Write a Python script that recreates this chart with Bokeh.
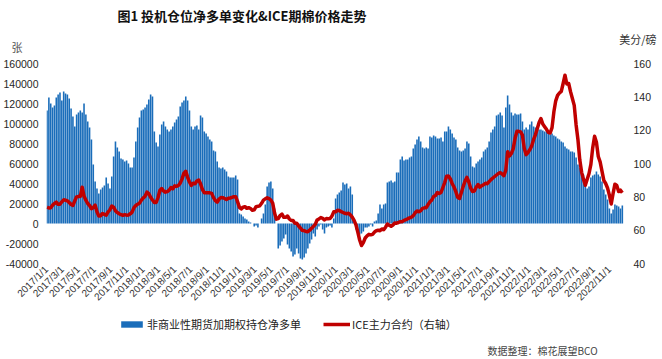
import pandas as pd
from math import pi
from bokeh.plotting import figure
from bokeh.layouts import column
from bokeh.models import (Range1d, LinearAxis, FixedTicker, NumeralTickFormatter,
                          Label, Title, Legend, LegendItem, ColumnDataSource)
from bokeh.embed import file_html
from bokeh.resources import INLINE

# ---------------- data ----------------
first_report = "2017-01-03"   # weekly CFTC report dates start here, one value per week

net_long = [  # thousand contracts, non-commercial futures+options net long
    113, 126, 120, 116, 118, 126, 129, 131, 123, 132,
    130, 129, 125, 115, 107, 97, 109, 111, 113, 111,
    120, 109, 102, 96, 84, 59, 42, 35, 30, 34,
    36, 38, 46, 40, 35, 47, 67, 82, 76, 72,
    65, 64, 62, 63, 60, 56, 56, 66, 82, 96,
    106, 113, 114, 116, 119, 124, 129, 127, 92, 81,
    77, 89, 99, 102, 97, 94, 92, 94, 97, 101,
    104, 107, 117, 121, 123, 127, 123, 113,
    97, 94, 97, 98, 94, 108, 106, 92, 90, 87,
    84, 82, 73, 72, 62, 56, 55, 56, 54, 52,
    47, 46, 46, 46, 48, 44, 10, 9, 7, 5,
    4, 2, 1, 0, -3, -2, -4, 0, 5, 10,
    19, 37, 41, 42, 35, 15, 0, -25, -22, -18,
    -15, -11, -21, -25, -28, -33, -31, -25, -30, -35,
    -36, -34, -30, -25, -20, -16, -10, -13, -6, -3,
    -1, -6, -10, -4, -3, -2, -4, 5,
    25, 29, 31, 33, 41, 39, 40, 35, 37, 29,
    2, -6, -8, -11, -10, -8, -4, -4, -3, -1,
    -3, 2, 3, 10, 19, 15, 19, 20, 41, 42,
    43, 41, 42, 51, 51, 64, 67, 63, 64, 64,
    66, 67, 75, 79, 84, 87, 82, 76, 75, 76,
    75, 87, 86, 88, 87, 85, 85, 86, 82, 92,
    92, 97, 94, 90, 86, 84, 76, 73, 72, 73,
    75, 82, 80, 67, 57, 56, 60, 62,
    64, 66, 72, 74, 76, 82, 91, 94, 97, 108,
    109, 111, 108, 96, 116, 128, 119, 111, 108, 110,
    109, 109, 110, 102, 94, 96, 94, 99, 102, 97,
    96, 92, 94, 94, 93, 92, 92, 91, 89, 90,
    88, 87, 85, 84, 82, 81, 77, 75, 74, 72,
    72, 71, 66, 59, 56, 51, 49, 42, 35, 37,
    46, 48, 49, 52, 49, 47, 42, 34, 29, 24,
    15, 10, 14, 19, 18, 17, 15, 18,
]
net_long = [v * 1000 for v in net_long]

ice_price = [  # US cents / lb, ICE front contract, weekly
    73.8, 73.3, 73.5, 75, 76, 76.8, 75.5, 75.5, 77, 78.2,
    78, 77.6, 76.6, 75.4, 74.8, 77.6, 80, 80.3, 80.2, 85.8,
    80.5, 78, 76, 74.8, 72.9, 73.6, 75, 71, 68.5, 68.7,
    70, 69.5, 69, 71, 72.2, 74.5, 73.8, 71.6, 70.6, 69.9,
    69.3, 68.9, 69.3, 69, 69.1, 69.8, 70.8, 73.5, 74.8, 75.6,
    76.2, 78, 79.3, 80.4, 82.8, 81.9, 79.7, 78.1, 76.6, 76.6,
    79.6, 83.8, 85, 83.5, 82.8, 83.1, 84, 85.6, 84.8, 86.6,
    86.3, 86.8, 88.2, 90.8, 94.2, 95.3, 91.7, 88.9,
    86.8, 88.2, 87.8, 89.5, 90.1, 87.8, 84.4, 82.5, 82.5, 82.4,
    82.4, 82.1, 79.5, 77.7, 76.8, 78.7, 79.6, 79.5, 79, 78.4,
    79.1, 79.3, 79.7, 80.1, 80.1, 77.1, 73.7, 72.8, 73.8, 74.1,
    73.1, 73.5, 73, 71.9, 72.2, 74.1, 74.3, 74.6, 76.1, 78,
    78.8, 79.4, 78.9, 78, 76.2, 70.3, 66.6, 66.9, 68.8, 69.7,
    67.7, 67.7, 68.5, 66.7, 65.8, 65.8, 64.1, 64.1, 62.5, 61.2,
    59.9, 59.7, 59.2, 59.1, 60, 61.1, 62.3, 63.5, 66.1, 66.7,
    67.6, 67.1, 66.1, 67, 66.9, 67, 68.4, 71,
    71, 71.9, 71.8, 71.1, 70.6, 70.1, 69.9, 70.1, 69.2, 67.8,
    65.9, 63.2, 58.8, 54.1, 50.8, 52.5, 55.3, 56.6, 57.5, 57.2,
    57.5, 58.8, 59.7, 59.9, 59.7, 60.7, 60.3, 61.8, 63.7, 63,
    62.3, 63.1, 64.3, 64.2, 64.6, 65.1, 65.1, 65.9, 66.3, 66.9,
    67.4, 67.8, 68.7, 70.4, 71.5, 71.1, 71.7, 73.1, 73.4, 73.5,
    75.4, 77, 78.1, 80.2, 80.8, 82.6, 82, 82.6, 85.6, 88.6,
    92.4, 92.5, 90.9, 88, 85.9, 83.1, 79.7, 79, 82.6, 86.3,
    89.5, 91.7, 88.9, 85.2, 83.2, 83.5, 85.8, 87.4,
    85.8, 86.7, 87.3, 88.1, 87.9, 89.1, 90.3, 91.3, 92.2, 93.1,
    94, 94.6, 93.7, 92.7, 96, 107, 104.5, 106, 108.8, 115,
    119.3, 119.3, 119, 117, 109, 105.3, 106.6, 108.3, 110.5, 114.3,
    117.2, 120.9, 124.6, 127, 123.7, 122.1, 120.5, 118.7, 118.3, 121.5,
    131, 137.6, 140.9, 142.3, 143.3, 148, 153, 147.7, 148, 143.1,
    139, 134.9, 123.3, 114.4, 102.2, 94.7, 90.5, 86.9, 90.5, 94,
    99.5, 109.5, 116.4, 112.8, 104.2, 101, 95.4, 89.9, 88, 85.3,
    81, 75.7, 82, 87.6, 86.8, 83.2, 84, 82.5,
]

x_tick_labels = [
    "2017/1/1", "2017/3/1", "2017/5/1", "2017/7/1", "2017/9/1", "2017/11/1",
    "2018/1/1", "2018/3/1", "2018/5/1", "2018/7/1", "2018/9/1", "2018/11/1",
    "2019/1/1", "2019/3/1", "2019/5/1", "2019/7/1", "2019/9/1", "2019/11/1",
    "2020/1/1", "2020/3/1", "2020/5/1", "2020/7/1", "2020/9/1", "2020/11/1",
    "2021/1/1", "2021/3/1", "2021/5/1", "2021/7/1", "2021/9/1", "2021/11/1",
    "2022/1/1", "2022/3/1", "2022/5/1", "2022/7/1", "2022/9/1", "2022/11/1",
]
left_ticks = [-40000, -20000, 0, 20000, 40000, 60000, 80000, 100000, 120000, 140000, 160000]
right_ticks = [40, 60, 80, 100, 120, 140, 160]

title_text = "图1  投机仓位净多单变化&ICE期棉价格走势"
bar_name = "非商业性期货加期权持仓净多单"
line_name = "ICE主力合约（右轴）"
left_unit = "张"
right_unit = "美分/磅"
source_text = "数据整理：棉花展望BCO"

# ---------------- build ----------------
W = 662
HEAD_H, MAIN_H, FOOT_H = 55, 258, 44
BL, BR = 46, 37                      # left / right borders shared by all three parts
BAR_COLOR = "#1A6DBA"
LINE_COLOR = "#C00000"
CJK = "Noto Sans CJK SC"
NUM = "Liberation Sans"

origin = pd.Timestamp("2017-01-01")
dates = pd.date_range(first_report, periods=len(net_long), freq="7D")
xday = [(d - origin).days for d in dates]
src = ColumnDataSource(dict(x=xday, net=net_long, price=ice_price))

tick_pos = [(pd.Timestamp(s.replace("/", "-")) - origin).days for s in x_tick_labels]
end_day = (pd.Timestamp("2023-01-01") - origin).days


def plain(ax):
    ax.axis_line_color = None
    ax.major_tick_line_color = None
    ax.minor_tick_line_color = None
    ax.major_tick_out = 0
    ax.major_tick_in = 0
    ax.minor_tick_out = 0
    ax.minor_tick_in = 0


# ---- header: title, right unit (titles above a thin frame), left unit (axis label) ----
HEAD_TOP = 44
head = figure(width=W, height=HEAD_H, output_backend="svg", toolbar_location=None,
              x_range=Range1d(BL, W - BR), y_range=Range1d(0, HEAD_H - HEAD_TOP),
              min_border_left=BL, min_border_right=BR, min_border_top=HEAD_TOP,
              min_border_bottom=0, x_axis_location=None, title=title_text)
head.outline_line_color = None
head.grid.visible = False
head.title.text_font = CJK
head.title.text_font_size = "13px"
head.title.text_font_style = "bold"
head.title.text_color = "#111111"
head.title.align = "left"
head.title.offset = 71
head.title.standoff = 7
head.add_layout(Title(text=right_unit, align="right", offset=-31, standoff=0,
                      text_font=CJK, text_font_size="11px", text_font_style="normal",
                      text_color="#333333"), "above")

ly = head.yaxis[0]
plain(ly)
unit_y = HEAD_H - HEAD_TOP - 0.5
ly.ticker = FixedTicker(ticks=[unit_y])
ly.major_label_overrides = {unit_y: left_unit}
ly.major_label_text_font = CJK
ly.major_label_text_font_size = "11px"
ly.major_label_text_color = "#555555"
ly.major_label_standoff = 24

# ---- main chart ----
p = figure(width=W, height=MAIN_H, output_backend="svg", toolbar_location=None,
           x_range=Range1d(0, end_day), y_range=Range1d(-40000, 160000),
           min_border_left=BL, min_border_right=BR, min_border_top=8, min_border_bottom=50)
p.extra_y_ranges = {"price": Range1d(40, 160)}
p.outline_line_color = None
p.xgrid.visible = False
p.ygrid.visible = False

bars = p.vbar(x="x", top="net", bottom=0, width=6, source=src,
              fill_color=BAR_COLOR, line_color=None)
line = p.line(x="x", y="price", source=src, y_range_name="price",
              line_color=LINE_COLOR, line_width=3.5, line_join="round")

xa = p.xaxis[0]
plain(xa)
xa.ticker = FixedTicker(ticks=tick_pos)
xa.major_label_overrides = {t: s for t, s in zip(tick_pos, x_tick_labels)}
xa.major_label_orientation = pi / 4
xa.major_label_text_font = NUM
xa.major_label_text_font_size = "10px"
xa.major_label_text_color = "#333333"
xa.major_label_standoff = 4

ya = p.yaxis[0]
plain(ya)
ya.ticker = FixedTicker(ticks=left_ticks)
ya.formatter = NumeralTickFormatter(format="0")
ya.major_label_text_font = NUM
ya.major_label_text_font_size = "10.5px"
ya.major_label_text_color = "#262626"
ya.major_label_standoff = 8

ra = LinearAxis(y_range_name="price", ticker=FixedTicker(ticks=right_ticks))
plain(ra)
ra.major_label_text_font = NUM
ra.major_label_text_font_size = "10.5px"
ra.major_label_text_color = "#262626"
ra.major_label_standoff = 8
p.add_layout(ra, "right")

# ---- footer: legend + source ----
foot = figure(width=W, height=FOOT_H, output_backend="svg", toolbar_location=None,
              x_range=Range1d(BL, W - BR), y_range=Range1d(0, FOOT_H),
              min_border_left=BL, min_border_right=BR, min_border_top=0,
              min_border_bottom=0, x_axis_type=None, y_axis_type=None)
foot.outline_line_color = None
foot.grid.visible = False
lg_bar = foot.vbar(x="x", top="net", width=6, source=src, visible=False,
                   fill_color=BAR_COLOR, line_color=None)
lg_line = foot.line(x="x", y="price", source=src, visible=False,
                    line_color=LINE_COLOR, line_width=3.5)
legend = Legend(items=[LegendItem(label=bar_name, renderers=[lg_bar]),
                       LegendItem(label=line_name, renderers=[lg_line])],
                orientation="horizontal", location=(72, FOOT_H - 13 - 6),
                border_line_color=None, background_fill_alpha=0,
                padding=0, margin=0, spacing=22, glyph_width=27, glyph_height=8,
                label_standoff=2, label_height=12,
                label_text_font=CJK, label_text_font_size="11px",
                label_text_color="#222222", label_text_baseline="middle")
foot.add_layout(legend, "center")
foot.add_layout(Label(x=487, y=FOOT_H - 37, text=source_text, text_font=CJK,
                      text_font_size="10px", text_align="left",
                      text_baseline="middle", text_color="#444444"))

layout = column(head, p, foot, spacing=0)
open("out.html", "w").write(file_html(layout, INLINE))
